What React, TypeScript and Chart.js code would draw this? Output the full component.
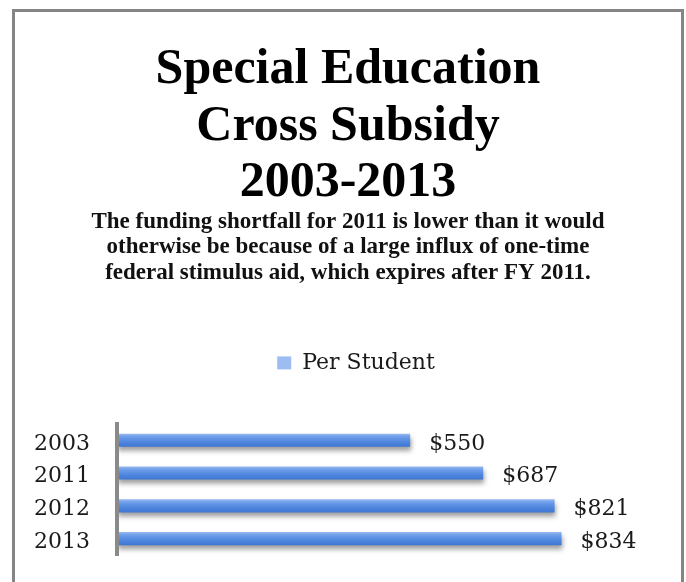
import React, { useEffect, useRef } from 'react';
import { Chart, registerables } from 'chart.js';

Chart.register(...registerables);

const categories = ['2003', '2011', '2012', '2013'];
const perStudent = [550, 687, 821, 834];
const seriesLabel = 'Per Student';
const titleLines = ['Special Education', 'Cross Subsidy', '2003-2013'];
const subtitleLines = [
  'The funding shortfall for 2011 is lower than it would',
  'otherwise be because of a large influx of one-time',
  'federal stimulus aid, which expires after FY 2011.',
];
const xMin = 0;
const xMax = 1000;

const SERIF = '"DejaVu Serif", serif';
const TITLE_SERIF = '"Liberation Serif", serif';

const legendTweak = {
  id: 'legendTweak',
  beforeLayout(chart: any) {
    const lg = chart.legend;
    if (lg && !lg._tweaked) {
      const origFit = lg.fit;
      lg.fit = function () {
        origFit.call(this);
        this.height += 40;
      };
      const origDraw = lg.draw;
      lg.draw = function () {
        const ctx = this.ctx;
        ctx.save();
        ctx.translate(8, 0);
        origDraw.call(this);
        ctx.restore();
      };
      lg._tweaked = true;
    }
  },
};

const barShadow = {
  id: 'barShadow',
  beforeDatasetsDraw(chart: any) {
    const ctx = chart.ctx;
    ctx.save();
    ctx.shadowColor = 'rgba(0,0,0,0.38)';
    ctx.shadowBlur = 5;
    ctx.shadowOffsetX = 1;
    ctx.shadowOffsetY = 4;
  },
  afterDatasetsDraw(chart: any) {
    chart.ctx.restore();
  },
};

const valueLabels = {
  id: 'valueLabels',
  afterDatasetsDraw(chart: any) {
    const ctx = chart.ctx;
    const meta = chart.getDatasetMeta(0);
    ctx.save();
    ctx.font = '22px ' + SERIF;
    ctx.fillStyle = '#1a1a1a';
    ctx.textAlign = 'left';
    ctx.textBaseline = 'middle';
    meta.data.forEach((bar: any, i: number) => {
      ctx.fillText('$' + perStudent[i], bar.x + 19, bar.y + 3.5);
    });
    ctx.restore();
  },
};

function barFill(context: any) {
  if (context.type !== 'data') return '#79a2ea';
  const chart = context.chart;
  const y = chart.scales && chart.scales.y;
  if (!y) return '#5b8ee5';
  const c = y.getPixelForValue(context.dataIndex);
  if (!Number.isFinite(c)) return '#5b8ee5';
  const g = chart.ctx.createLinearGradient(0, c - 7, 0, c + 7);
  g.addColorStop(0, '#9dbdf2');
  g.addColorStop(0.25, '#6f9de9');
  g.addColorStop(0.6, '#5088e0');
  g.addColorStop(1, '#3c74d0');
  return g;
}

export default function App() {
  const ref = useRef<HTMLCanvasElement>(null);

  useEffect(() => {
    if (!ref.current) return;
    const chart = new Chart(ref.current, {
      type: 'bar',
      data: {
        labels: categories,
        datasets: [
          {
            label: seriesLabel,
            data: perStudent,
            backgroundColor: barFill as any,
            borderWidth: 0,
            barPercentage: 0.4,
            categoryPercentage: 1,
          },
        ],
      },
      options: {
        indexAxis: 'y',
        responsive: false,
        animation: false,
        devicePixelRatio: 1,
        layout: { padding: { left: 19, right: 19, top: 0, bottom: 27 } },
        plugins: {
          title: {
            display: true,
            text: titleLines,
            color: '#000',
            font: { family: TITLE_SERIF, size: 50, weight: 'bold', lineHeight: 1.13 },
            padding: { top: 30, bottom: -2 },
          },
          subtitle: {
            display: true,
            text: subtitleLines,
            color: '#111',
            font: { family: TITLE_SERIF, size: 23, weight: 'bold', lineHeight: 1.1 },
            padding: { top: 0, bottom: 56.5 },
          },
          legend: {
            display: true,
            position: 'top',
            labels: {
              font: { family: SERIF, size: 22 },
              color: '#1a1a1a',
              boxWidth: 14,
              boxHeight: 13,
              padding: 10,
            },
          },
          tooltip: { enabled: false },
        },
        scales: {
          x: { display: false, min: xMin, max: xMax },
          y: {
            type: 'category',
            position: 'left',
            grid: { display: false, drawTicks: false },
            border: { display: true, color: '#8a8a8a', width: 4, z: 1 } as any,
            ticks: {
              font: { family: SERIF, size: 22 },
              color: '#1a1a1a',
              padding: 0,
              crossAlign: 'far',
              labelOffset: 3.5,
            },
            afterFit(scale: any) {
              scale.width = 83;
            },
          },
          yRight: {
            type: 'category',
            position: 'right',
            grid: { display: false, drawTicks: false },
            border: { display: false },
            ticks: { display: false },
            afterFit(scale: any) {
              scale.width = 12;
            },
          },
        },
      },
      plugins: [legendTweak, barShadow, valueLabels],
    });
    chart.update();
    return () => chart.destroy();
  }, []);

  return (
    <>
      <style>{'html,body{overflow:hidden}'}</style>
      <div
        style={{
          position: 'fixed',
          left: 12,
          top: 9,
          width: 672,
          height: 600,
          boxSizing: 'border-box',
          borderTop: '3px solid #858585',
          borderLeft: '3px solid #858585',
          borderRight: '3px solid #858585',
          background: '#fff',
        }}
      >
        <canvas ref={ref} width={666} height={570} style={{ display: 'block' }} />
      </div>
    </>
  );
}
